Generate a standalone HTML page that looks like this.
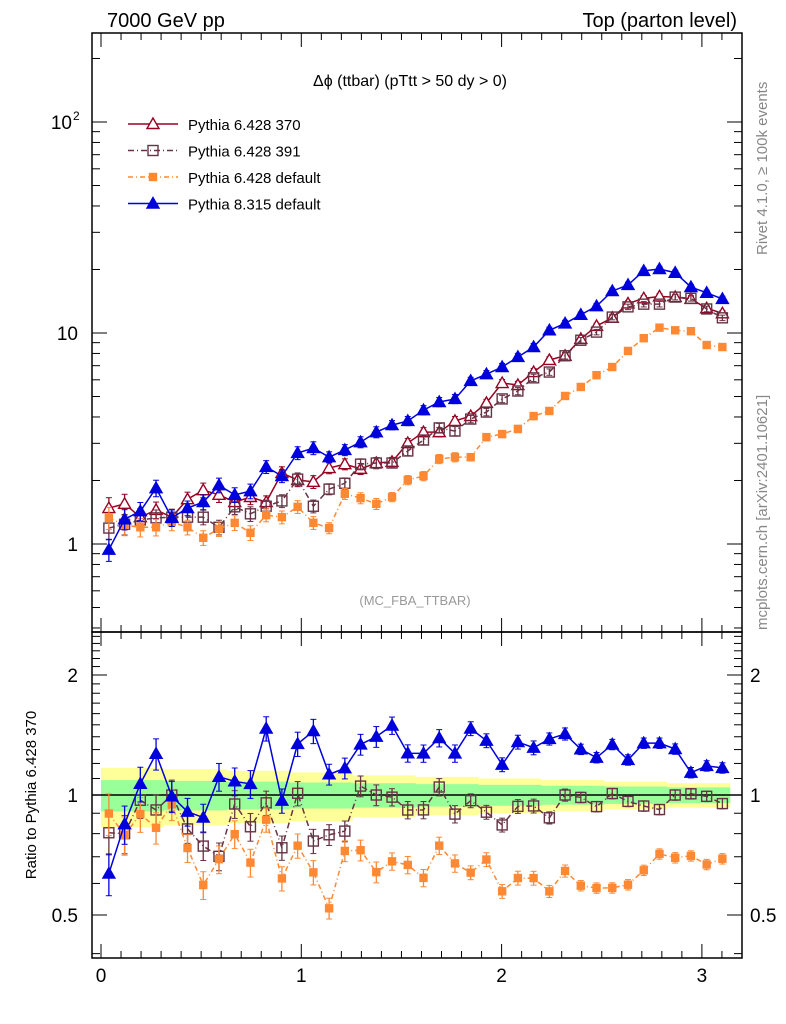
<!DOCTYPE html>
<html><head><meta charset="utf-8"><style>
body{margin:0;background:#fff}
svg{display:block;font-family:"Liberation Sans",sans-serif}
</style></head><body>
<svg id="c" width="786" height="1024" viewBox="0 0 786 1024" xmlns="http://www.w3.org/2000/svg">
<text x="107" y="27" font-size="20">7000 GeV pp</text>
<text x="737" y="27" font-size="20" text-anchor="end">Top (parton level)</text>
<text x="410" y="86" font-size="16" text-anchor="middle">Δϕ (ttbar) (pTtt &gt; 50 dy &gt; 0)</text>
<text x="415" y="605" font-size="13" fill="#999" text-anchor="middle">(MC_FBA_TTBAR)</text>
<text transform="translate(767,255) rotate(-90)" font-size="15" fill="#888">Rivet 4.1.0, ≥ 100k events</text>
<text transform="translate(767,630) rotate(-90)" font-size="15" fill="#888">mcplots.cern.ch [arXiv:2401.10621]</text>
<text transform="translate(36,795) rotate(-90)" font-size="15" text-anchor="middle">Ratio to Pythia 6.428 370</text>
<g id="g"></g>
</svg>
<script>
const p370=[1.48,1.55,1.34,1.45,1.34,1.63,1.80,1.71,1.58,1.67,1.58,2.17,2.01,1.97,2.29,2.39,2.27,2.42,2.45,3.01,3.39,3.39,3.83,4.04,4.66,5.79,5.67,6.53,7.45,7.80,9.37,10.8,11.8,13.8,14.6,14.9,14.8,14.5,13.1,12.4];
const p391=[1.19,1.24,1.30,1.33,1.34,1.34,1.34,1.20,1.50,1.39,1.51,1.60,2.03,1.51,1.82,1.94,2.39,2.42,2.42,2.76,3.11,3.55,3.43,3.91,4.22,4.87,5.31,6.13,6.53,7.80,9.24,10.1,11.9,13.3,13.7,13.7,14.8,14.6,13.0,11.8];
const pdef=[1.33,1.23,1.20,1.20,1.27,1.20,1.07,1.18,1.26,1.13,1.37,1.34,1.50,1.26,1.19,1.73,1.65,1.55,1.67,2.01,2.10,2.53,2.58,2.58,3.21,3.32,3.51,4.04,4.27,5.03,5.55,6.31,6.90,8.22,9.45,10.6,10.3,10.2,8.77,8.58];
const p8=[0.94,1.31,1.43,1.84,1.33,1.48,1.58,1.90,1.71,1.78,2.32,2.10,2.70,2.85,2.58,2.79,3.04,3.39,3.66,3.83,4.31,4.71,4.87,5.93,6.38,6.90,7.70,8.58,10.3,11.1,12.2,13.4,15.8,16.9,19.7,20.1,19.3,16.5,15.5,14.5];
const relErr=[0.12,0.11,0.1,0.09,0.09,0.08,0.08,0.08,0.08,0.08,0.07,0.07,0.07,0.07,0.06,0.06,0.06,0.06,0.05,0.05,0.05,0.05,0.05,0.04,0.04,0.04,0.04,0.04,0.035,0.035,0.03,0.03,0.03,0.03,0.03,0.03,0.03,0.03,0.03,0.03];
const bandY=[0.17,0.16,0.15,0.14,0.12,0.11,0.1,0.09,0.08,0.07];
const bandG=[0.09,0.085,0.08,0.075,0.07,0.065,0.06,0.055,0.05,0.045];
const xTicks=[0,1,2,3];
const NS="http://www.w3.org/2000/svg";
const g=document.getElementById('g');
function el(t,a,p){const e=document.createElementNS(NS,t);for(const k in a)e.setAttribute(k,a[k]);(p||g).appendChild(e);return e;}
const X=v=>101+v*200.3;
const Ym=v=>544-211*Math.log10(v);
const Yr=v=>795-120*Math.log2(v);
const L=92,R=742,T=33,M=632,B=958;
const bw=Math.PI/40;
const xs=p370.map((_,i)=>(i+0.5)*bw);
function band(arr,col,name){
 const n=arr.length;const pts=[];
 for(let k=0;k<n;k++){const x0=X(k*Math.PI/n),x1=X((k+1)*Math.PI/n);pts.push([x0,Yr(1+arr[k])],[x1,Yr(1+arr[k])]);}
 const pb=[];for(let k=n-1;k>=0;k--){const x0=X(k*Math.PI/n),x1=X((k+1)*Math.PI/n);pb.push([x1,Yr(1-arr[k])],[x0,Yr(1-arr[k])]);}
 const p=el('polygon',{points:pts.concat(pb).map(q=>q.join(',')).join(' '),fill:col});
 
 }
band(bandY,'#ffff99','ratio-band-yellow');
band(bandG,'#99ff99','ratio-band-green');
el('line',{x1:L,x2:R,y1:Yr(1),y2:Yr(1),stroke:'#000','stroke-width':1.5});
const f1=el('rect',{x:L,y:T,width:R-L,height:M-T,fill:'none',stroke:'#000','stroke-width':1.5});


const f2=el('rect',{x:L,y:M,width:R-L,height:B-M,fill:'none',stroke:'#000','stroke-width':1.5});


for(let v=0;v<=3.2;v+=0.1){const vv=Math.round(v*10)/10;const maj=Math.abs(vv-Math.round(vv))<1e-6;const x=X(vv);if(x>R)break;const l=maj?14:7;
 [[T,1],[M,-1],[M,1],[B,-1]].forEach(([y,s])=>el('line',{x1:x,x2:x,y1:y,y2:y+s*l,stroke:'#000'}));}
xTicks.forEach(t=>{const e=el('text',{x:X(t),y:982,'font-size':19,'text-anchor':'middle'});e.textContent=t;
 
 });
for(let dec=-1;dec<=2;dec++)for(let m=1;m<=9;m++){const v=m*Math.pow(10,dec);const y=Ym(v);if(y<T||y>M)continue;const l=m==1?15:8;
 el('line',{x1:L,x2:L+l,y1:y,y2:y,stroke:'#000'});el('line',{x1:R,x2:R-l,y1:y,y2:y,stroke:'#000'});}
[[1,'1'],[10,'10']].forEach(([v,s])=>{const e=el('text',{x:78,y:Ym(v)+7,'font-size':19,'text-anchor':'end'});e.textContent=s;
 
 });
{const e=el('text',{x:72,y:Ym(100)+7,'font-size':19,'text-anchor':'end'});e.textContent='10';
 
 
 const s=el('text',{x:73,y:Ym(100)-2,'font-size':12});s.textContent='2';}
for(let k=4;k<=25;k++){const v=k/10;const y=Yr(v);if(y<M||y>B)continue;const maj=(k==5||k==10||k==20);const l=maj?15:8;
 el('line',{x1:L,x2:L+l,y1:y,y2:y,stroke:'#000'});el('line',{x1:R,x2:R-l,y1:y,y2:y,stroke:'#000'});}
[[2,'2'],[1,'1'],[0.5,'0.5']].forEach(([v,s])=>{
 const a=el('text',{x:78,y:Yr(v)+7,'font-size':19,'text-anchor':'end'});a.textContent=s;
 
 
 const b=el('text',{x:750,y:Yr(v)+7,'font-size':19});b.textContent=s;
 
 });
const series=[
 {d:p370,c:'#990022',m:'tri-open',dash:'',name:'pythia-6428-370',lab:'Pythia 6.428 370',ratio:false},
 {d:p391,c:'#663344',m:'sq-open',dash:'6,3,1,3',name:'pythia-6428-391',lab:'Pythia 6.428 391',ratio:true},
 {d:pdef,c:'#ff8833',m:'sq-fill',dash:'5,3,1,3',name:'pythia-6428-default',lab:'Pythia 6.428 default',ratio:true},
 {d:p8,c:'#0000dd',m:'tri-fill',dash:'',name:'pythia-8315-default',lab:'Pythia 8.315 default',ratio:true}];
function marker(type,x,y,c,par){
 if(type[0]=='t'){return el('polygon',{points:`${x},${y-6} ${x-6},${y+4.5} ${x+6},${y+4.5}`,fill:type=='tri-fill'?c:'#fff',stroke:c,'stroke-width':1.4},par);}
 const s=type=='sq-fill'?7:10;return el('rect',{x:x-s/2,y:y-s/2,width:s,height:s,fill:type=='sq-fill'?c:'none',stroke:c,'stroke-width':1.4},par);}
function draw(vals,Y,s,sfx){
 const grp=el('g',{});
 
 
 el('polyline',{points:vals.map((v,i)=>X(xs[i])+','+Y(v)).join(' '),fill:'none',stroke:s.c,'stroke-width':1.5,'stroke-dasharray':s.dash},grp);
 vals.forEach((v,i)=>{const x=X(xs[i]);const e=relErr[i];
  el('line',{x1:x,x2:x,y1:Y(v*(1+e)),y2:Y(v*(1-e)),stroke:s.c,'stroke-width':1.3},grp);
  el('line',{x1:x-3,x2:x+3,y1:Y(v*(1+e)),y2:Y(v*(1+e)),stroke:s.c},grp);
  el('line',{x1:x-3,x2:x+3,y1:Y(v*(1-e)),y2:Y(v*(1-e)),stroke:s.c},grp);
  const m=marker(s.m,x,Y(v),s.c,grp);
  
  });}
series.forEach(s=>{draw(s.d,Ym,s,'main');if(s.ratio)draw(s.d.map((v,i)=>v/p370[i]),Yr,s,'ratio');});
series.forEach((s,k)=>{const y=124+k*26.5;const lg=el('g',{});
 
 
 el('line',{x1:128,x2:178,y1:y,y2:y,stroke:s.c,'stroke-width':1.5,'stroke-dasharray':s.dash},lg);
 marker(s.m,153,y,s.c,lg);
 const t=el('text',{x:188,y:y+6,'font-size':15},lg);t.textContent=s.lab;});
</script>
</body></html>
